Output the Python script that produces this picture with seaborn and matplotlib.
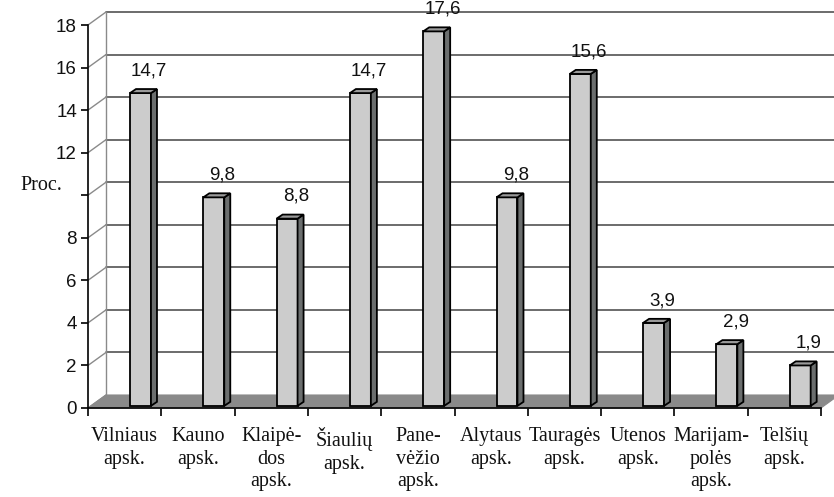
import matplotlib
matplotlib.use("Agg")
import matplotlib.pyplot as plt
from matplotlib.patches import Polygon
import seaborn as sns

# data
categories = ["Vilniaus\napsk.", "Kauno\napsk.", "Klaipė-\ndos\napsk.", "Šiaulių\napsk.",
              "Pane-\nvėžio\napsk.", "Alytaus\napsk.", "Tauragės\napsk.", "Utenos\napsk.",
              "Marijam-\npolės\napsk.", "Telšių\napsk."]
values = [14.7, 9.8, 8.8, 14.7, 17.6, 9.8, 15.6, 3.9, 2.9, 1.9]
value_labels = ["14,7", "9,8", "8,8", "14,7", "17,6", "9,8", "15,6", "3,9", "2,9", "1,9"]
y_ticks = [0, 2, 4, 6, 8, 10, 12, 14, 16, 18]
y_tick_labels = ["0", "2", "4", "6", "8", "", "12", "14", "16", "18"]

sns.set_style("white")
plt.rcParams["font.family"] = ["Liberation Sans", "DejaVu Sans"]
serif = ["Liberation Serif", "DejaVu Serif"]

fig = plt.figure(figsize=(8.34, 4.97), dpi=100)
ax = fig.add_axes([88 / 834, 89 / 497, 733 / 834, 383 / 497])

# fake 3D depth (wall offset and bar depth), in data units
dx, dy = 0.2456, 0.611
bdx, bdy = 0.082, 0.19
lift = 0.1

sns.barplot(x=categories, y=values, color="#cccccc", width=0.286, edgecolor="black",
            linewidth=1.3, saturation=1, ax=ax, zorder=3)
ax.set_xlim(-0.5, 9.5)
ax.set_ylim(0, 18)

# floor
ax.add_patch(Polygon([(-0.5, 0), (9.5, 0), (9.5 + dx, dy), (-0.5 + dx, dy)],
                     closed=True, facecolor="#8a8a8a", edgecolor="#8a8a8a",
                     lw=0.8, zorder=1, clip_on=False))

# back wall gridlines + side wall diagonals
for v in y_ticks:
    if v > 0:
        ax.plot([-0.5 + dx, 9.5 + dx], [v + dy, v + dy], color="#444444", lw=1.1,
                zorder=0.5, clip_on=False)
    ax.plot([-0.5, -0.5 + dx], [v, v + dy], color="#8a8a8a", lw=1, zorder=0.6,
            clip_on=False)
ax.plot([-0.5 + dx, -0.5 + dx], [dy, 18 + dy], color="#8a8a8a", lw=1, zorder=0.6,
        clip_on=False)

for p, v, lab in zip(ax.containers[0], values, value_labels):
    p.set_x(p.get_x() + 0.216)
    p.set_y(lift)
    x0 = p.get_x()
    x1 = x0 + p.get_width()
    top = lift + v
    ax.add_patch(Polygon([(x1, lift), (x1 + bdx, lift + bdy), (x1 + bdx, top + bdy), (x1, top)],
                         closed=True, facecolor="#6b6e6e", edgecolor="black", lw=1.3,
                         zorder=3, clip_on=False))
    ax.add_patch(Polygon([(x0, top), (x1, top), (x1 + bdx, top + bdy), (x0 + bdx, top + bdy)],
                         closed=True, facecolor="#9a9a9a", edgecolor="black", lw=1.3,
                         zorder=3, clip_on=False))
    ax.text((x0 + x1) / 2 + 0.12, top + 1.05, lab, ha="center", va="center",
            fontsize=13.5, color="#111111", zorder=4, clip_on=False)

for s in ["top", "right"]:
    ax.spines[s].set_visible(False)
for s in ["left", "bottom"]:
    ax.spines[s].set_color("black")
    ax.spines[s].set_linewidth(1.2)
    ax.spines[s].set_zorder(2)

ax.set_yticks(y_ticks)
ax.set_yticklabels(y_tick_labels, fontsize=13.5, color="#111111")
ax.tick_params(axis="y", direction="out", length=5, width=1.2, color="black", pad=3, left=True)
ax.set_xticks(range(len(categories)))
ax.set_xticklabels(categories, fontsize=14.5, family=serif, linespacing=1.25, color="#111111")
ax.set_xticks([i - 0.5 for i in range(len(categories) + 1)], minor=True)
ax.tick_params(axis="x", which="major", length=0, pad=14)
ax.tick_params(axis="x", which="minor", direction="out", length=6, width=1.2,
               color="black", bottom=True)
ax.set_xlabel("")
ax.set_ylabel("")

fig.text(41 / 834, 1 - 185 / 497, "Proc.", ha="center", va="center", fontsize=14.5,
         family=serif, color="#111111")

fig.savefig("out.png", dpi=100)
